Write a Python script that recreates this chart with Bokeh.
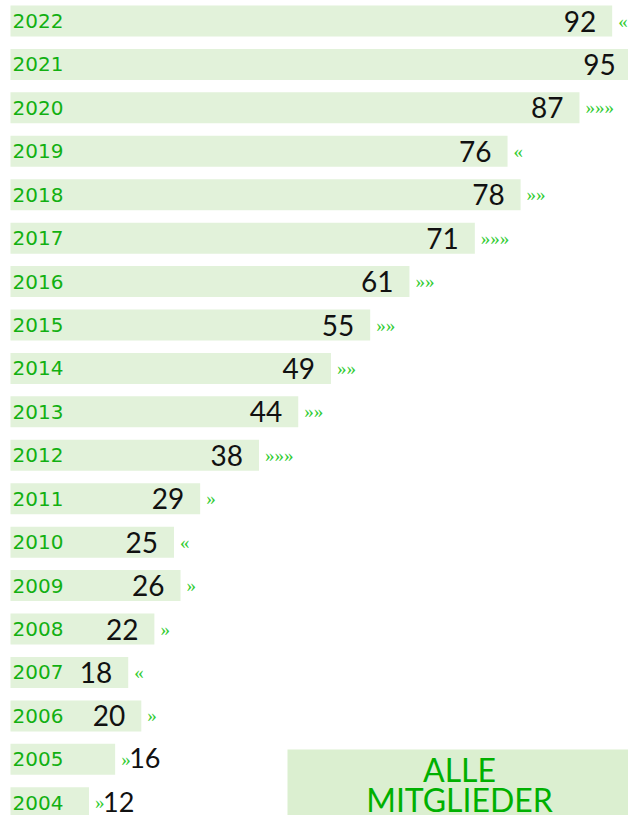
from bokeh.plotting import figure
from bokeh.models import ColumnDataSource, Range1d, BoxAnnotation
from bokeh.core.properties import value
from bokeh.embed import file_html
from bokeh.resources import INLINE

# ---- data ----
years = [2022, 2021, 2020, 2019, 2018, 2017, 2016, 2015, 2014, 2013,
         2012, 2011, 2010, 2009, 2008, 2007, 2006, 2005, 2004]
members = [92, 95, 87, 76, 78, 71, 61, 55, 49, 44,
           38, 29, 25, 26, 22, 18, 20, 16, 12]
trend = ["«", "", "»»»", "«", "»»", "»»»", "»»", "»»", "»»", "»»",
         "»»»", "»", "«", "»", "»", "«", "»", "»", "»"]
year_labels = [str(y) for y in years]
legend_lines = ["ALLE", "MITGLIEDER"]

# ---- layout ----
W, H = 628, 815
px_per_unit = 6.54
px_per_row = 43.43
x0 = -10 / px_per_unit
x1 = x0 + W / px_per_unit
y1 = years[0] + 20.5 / px_per_row
y0 = y1 - H / px_per_row
inside_min = 17

BAR = "#e2f2da"
BOX = "#dbefd0"
GREEN = "#12b012"
CHEV = "#33cc33"

p = figure(width=W, height=H, output_backend="svg", toolbar_location=None,
           x_range=Range1d(x0, x1), y_range=Range1d(y0, y1), min_border=0)
p.axis.visible = False
p.grid.visible = False
p.outline_line_color = None
p.background_fill_color = "white"
p.border_fill_color = "white"

src = ColumnDataSource(dict(year=years, members=members, trend=trend, label=year_labels))
p.hbar(y="year", right="members", left=0, height=0.714, source=src,
       fill_color=BAR, line_color=None)

p.text(x=0, y="year", text="label", source=src, x_offset=2, text_align="left",
       text_baseline="middle", text_font=value("DejaVu Sans"), text_font_size="20px",
       text_color=GREEN)

ins = ColumnDataSource(dict(year=[y for y, m in zip(years, members) if m >= inside_min],
                            members=[m for m in members if m >= inside_min],
                            txt=[str(m) for m in members if m >= inside_min]))
outs = ColumnDataSource(dict(year=[y for y, m in zip(years, members) if m < inside_min],
                             members=[m for m in members if m < inside_min],
                             txt=[str(m) for m in members if m < inside_min]))

p.text(x="members", y="year", text="txt", source=ins, x_offset=-16, text_align="right",
       text_baseline="middle", text_font=value("Lato"), text_font_size="28px",
       text_color="#111111")
p.text(x="members", y="year", text="txt", source=outs, x_offset=14, y_offset=-1,
       text_align="left", text_baseline="middle", text_font=value("Lato"),
       text_font_size="27px", text_color="#111111")

p.text(x="members", y="year", text="trend", source=src, x_offset=6, text_align="left",
       text_baseline="middle", text_font=value("Liberation Sans Narrow"),
       text_font_size="19px", text_color=CHEV)

# legend-like box "ALLE MITGLIEDER"
box_left = x0 + 287 / px_per_unit
box_top = y1 - 749 / px_per_row
p.add_layout(BoxAnnotation(left=box_left, right=x1 + 5, top=box_top, bottom=y0 - 1,
                           fill_color=BOX, fill_alpha=1, line_color=None, level="underlay"))
leg = ColumnDataSource(dict(
    x=[x0 + 459 / px_per_unit] * len(legend_lines),
    y=[y1 - (769 + 30 * i) / px_per_row for i in range(len(legend_lines))],
    t=legend_lines))
p.text(x="x", y="y", text="t", source=leg, text_align="center", text_baseline="middle",
       text_font=value("Lato"), text_font_size="32px", text_color="#00b000")

open("out.html", "w").write(file_html(p, INLINE))
